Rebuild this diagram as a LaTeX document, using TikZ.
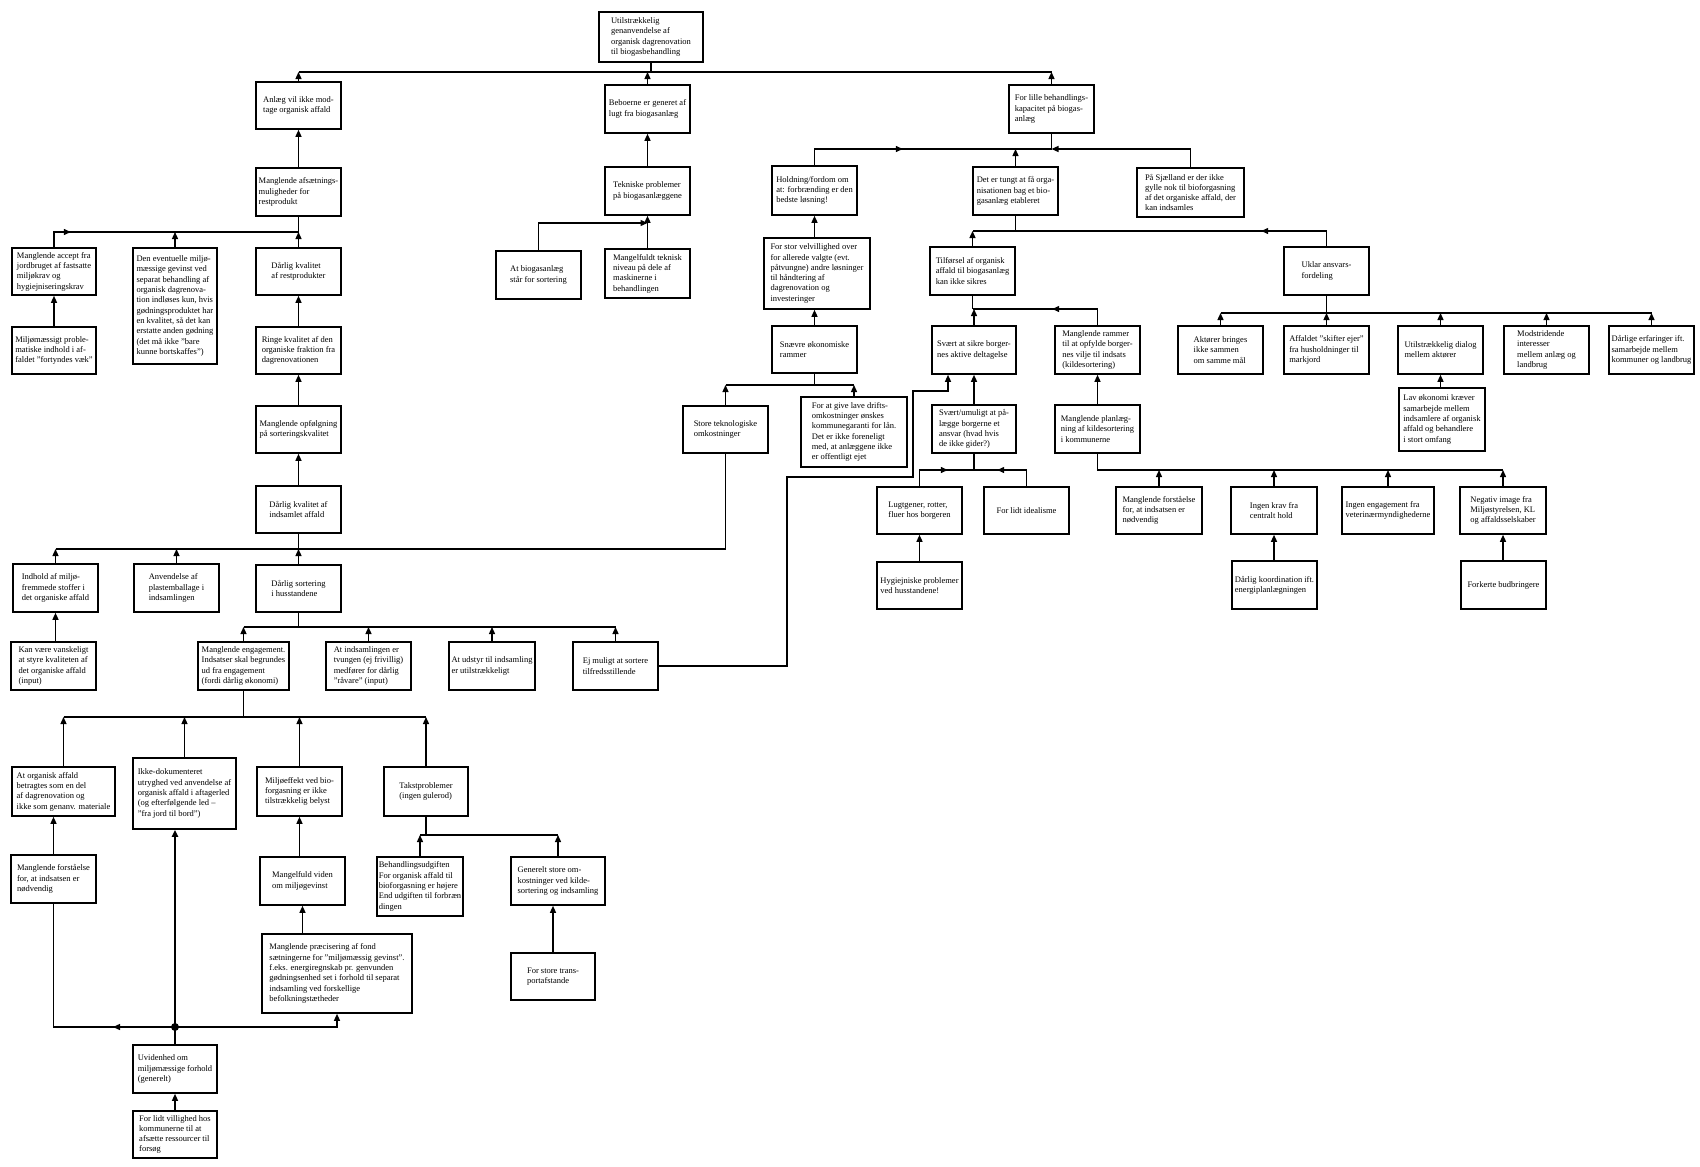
\documentclass[tikz,border=0pt]{standalone}
\usepackage{fontspec}
\setmainfont{Liberation Serif}
\usetikzlibrary{arrows.meta,decorations.markings}
\tikzset{
 pbox/.style={draw, line width=1.6pt, inner xsep=2pt, inner ysep=1pt, align=left, font=\fontsize{8.5}{10.3}\selectfont},
 conn/.style={line width=1.3pt},
 upar/.style={-{Triangle[length=7pt,width=6pt]}},
 marrow/.style={postaction={decorate}, decoration={markings, mark=at position #1 with {\arrow{Triangle[length=7pt,width=6pt]}}}},
}
\newcommand\BX[6]{%
 \pgfmathsetmacro\bxw{#4-#2}\pgfmathsetmacro\bxh{#5-#3}%
 \pgfmathsetmacro\bxx{(#2+#4)/2}\pgfmathsetmacro\bxy{(#3+#5)/2}%
 \node[pbox, minimum width=\bxw pt, minimum height=\bxh pt] (#1) at (\bxx,\bxy) {#6};}
\begin{document}
\begin{tikzpicture}[x=1pt,y=-1pt]
\fill[white] (0,0) rectangle (1700,1167);
\useasboundingbox (0,0) rectangle (1700,1167);
% ---------- nodes
\BX{T0}{599}{12}{703}{62}{Utilstrækkelig\\genanvendelse af\\organisk dagrenovation\\til biogasbehandling}
\BX{A1}{256}{82}{341}{129}{Anlæg vil ikke mod-\\tage organisk affald}
\BX{A2}{256}{168}{341}{216}{Manglende afsætnings-\\muligheder for\\restprodukt}
\BX{A3}{12}{248}{96}{295}{Manglende accept fra\\jordbruget af fastsatte\\miljøkrav og\\hygiejniseringskrav}
\BX{A4}{133}{248}{217}{364}{Den eventuelle miljø-\\mæssige gevinst ved\\separat behandling af\\organisk dagrenova-\\tion indløses kun, hvis\\gødningsproduktet har\\en kvalitet, så det kan\\erstatte anden gødning\\(det må ikke "bare\\kunne bortskaffes")}
\BX{A5}{256}{248}{341}{295}{Dårlig kvalitet\\af restprodukter}
\BX{A6}{12}{327}{96}{374}{Miljømæssigt proble-\\matiske indhold i af-\\faldet "fortyndes væk"}
\BX{A7}{256}{327}{341}{374}{Ringe kvalitet af den\\organiske fraktion fra\\dagrenovationen}
\BX{A8}{256}{406}{341}{453}{Manglende opfølgning\\på sorteringskvalitet}
\BX{A9}{256}{486}{341}{533}{Dårlig kvalitet af\\indsamlet affald}
\BX{A10}{13}{564}{98}{612}{Indhold af miljø-\\fremmede stoffer i\\det organiske affald}
\BX{A11}{134}{564}{219}{612}{Anvendelse af\\plastemballage i\\indsamlingen}
\BX{A12}{256}{565}{341}{612}{Dårlig sortering\\i husstandene}
\BX{A13}{11}{642}{96}{690}{Kan være vanskeligt\\at styre kvaliteten af\\det organiske affald\\(input)}
\BX{B1}{198}{642}{289}{690}{Manglende engagement.\\Indsatser skal begrundes\\ud fra engagement\\(fordi dårlig økonomi)}
\BX{B2}{326}{642}{411}{690}{At indsamlingen er\\tvungen (ej frivillig)\\medfører for dårlig\\"råvare" (input)}
\BX{B3}{449}{642}{535}{690}{At udstyr til indsamling\\er utilstrækkeligt}
\BX{B4}{573}{642}{658}{690}{Ej muligt at sortere\\tilfredsstillende}
\BX{C1}{12}{767}{115}{816}{At organisk affald\\betragtes som en del\\af dagrenovation og\\ikke som genanv. materiale}
\BX{C2}{133}{758}{236}{829}{Ikke-dokumenteret\\utryghed ved anvendelse af\\organisk affald i aftagerled\\(og efterfølgende led –\\"fra jord til bord")}
\BX{C3}{257}{767}{342}{816}{Miljøeffekt ved bio-\\forgasning er ikke\\tilstrækkelig belyst}
\BX{C4}{384}{767}{468}{816}{Takstproblemer\\(ingen gulerod)}
\BX{C5}{11}{855}{96}{903}{Manglende forståelse\\for, at indsatsen er\\nødvendig}
\BX{C6}{260}{857}{345}{905}{Mangelfuld viden\\om miljøgevinst}
\BX{C7}{262}{934}{412}{1013}{Manglende præcisering af fond\\sætningerne for "miljømæssig gevinst".\\f.eks. energiregnskab pr. genvunden\\gødningsenhed set i forhold til separat\\indsamling ved forskellige\\befolkningstætheder}
\BX{C8}{377}{857}{463}{916}{Behandlingsudgiften\\For organisk affald til\\bioforgasning er højere\\End udgiften til forbræn\\dingen}
\BX{C9}{511}{857}{605}{905}{Generelt store om-\\kostninger ved kilde-\\sortering og indsamling}
\BX{C10}{511}{953}{595}{1000}{For store trans-\\portafstande}
\BX{U1}{133}{1045}{217}{1093}{Uvidenhed om\\miljømæssige forhold\\(generelt)}
\BX{U2}{133}{1111}{217}{1158}{For lidt villighed hos\\kommunerne til at\\afsætte ressourcer til\\forsøg}
\BX{M1}{605}{85}{690}{133}{Beboerne er generet af\\lugt fra biogasanlæg}
\BX{M2}{605}{167}{690}{215}{Tekniske problemer\\på biogasanlæggene}
\BX{M3}{496}{251}{581}{299}{At biogasanlæg\\står for sortering}
\BX{M4}{605}{249}{690}{298}{Mangelfuldt teknisk\\niveau på dele af\\maskinerne i\\behandlingen}
\BX{H1}{772}{166}{857}{215}{Holdning/fordom om\\at: forbrænding er den\\bedste løsning!}
\BX{H2}{764}{238}{870}{309}{For stor velvillighed over\\for allerede valgte (evt.\\påtvungne) andre løsninger\\til håndtering af\\dagrenovation og\\investeringer}
\BX{H3}{772}{326}{857}{373}{Snævre økonomiske\\rammer}
\BX{S2}{683}{406}{768}{453}{Store teknologiske\\omkostninger}
\BX{F2}{801}{397}{907}{467}{For at give lave drifts-\\omkostninger ønskes\\kommunegaranti for lån.\\Det er ikke foreneligt\\med, at anlæggene ikke\\er offentligt ejet}
\BX{R1}{1009}{85}{1094}{133}{For lille behandlings-\\kapacitet på biogas-\\anlæg}
\BX{R2}{973}{167}{1058}{215}{Det er tungt at få orga-\\nisationen bag et bio-\\gasanlæg etableret}
\BX{R3}{1137}{168}{1244}{217}{På Sjælland er der ikke\\gylle nok til bioforgasning\\af det organiske affald, der\\kan indsamles}
\BX{R4}{930}{247}{1015}{295}{Tilførsel af organisk\\affald til biogasanlæg\\kan ikke sikres}
\BX{R5}{1284}{247}{1369}{295}{Uklar ansvars-\\fordeling}
\BX{R6}{932}{326}{1016}{374}{Svært at sikre borger-\\nes aktive deltagelse}
\BX{R7}{1055}{326}{1140}{374}{Manglende rammer\\til at opfylde borger-\\nes vilje til indsats\\(kildesortering)}
\BX{R8}{932}{405}{1016}{453}{Svært/umuligt at på-\\lægge borgerne et\\ansvar (hvad hvis\\de ikke gider?)}
\BX{R9}{877}{487}{962}{534}{Lugtgener, rotter,\\fluer hos borgeren}
\BX{R10}{984}{487}{1069}{534}{For lidt idealisme}
\BX{R11}{877}{562}{962}{609}{Hygiejniske problemer\\ved husstandene!}
\BX{R12}{1055}{405}{1140}{453}{Manglende planlæg-\\ning af kildesortering\\i kommunerne}
\BX{R13}{1116}{487}{1202}{534}{Manglende forståelse\\for, at indsatsen er\\nødvendig}
\BX{R14}{1231}{487}{1317}{534}{Ingen krav fra\\centralt hold}
\BX{R15}{1342}{487}{1434}{534}{Ingen engagement fra\\veterinærmyndighederne}
\BX{R16}{1460}{487}{1546}{534}{Negativ image fra\\Miljøstyrelsen, KL\\og affaldsselskaber}
\BX{R17}{1232}{561}{1317}{609}{Dårlig koordination ift.\\energiplanlægningen}
\BX{R18}{1461}{561}{1546}{609}{Forkerte budbringere}
\BX{R19}{1178}{326}{1263}{374}{Aktører bringes\\ikke sammen\\om samme mål}
\BX{R20}{1284}{326}{1369}{374}{Affaldet "skifter ejer"\\fra husholdninger til\\markjord}
\BX{R21}{1398}{326}{1483}{374}{Utilstrækkelig dialog\\mellem aktører}
\BX{R22}{1504}{326}{1589}{374}{Modstridende\\interesser\\mellem anlæg og\\landbrug}
\BX{R23}{1609}{326}{1694}{374}{Dårlige erfaringer ift.\\samarbejde mellem\\kommuner og landbrug}
\BX{R24}{1399}{388}{1485}{451}{Lav økonomi kræver\\samarbejde mellem\\indsamlere af organisk\\affald og behandlere\\i stort omfang}
% ---------- connectors: top bus
\draw[conn] (T0.south) -- (T0.south |- 0,72);
\draw[conn] (A1.north |- 0,72) -- (R1.north |- 0,72);
\draw[conn,upar] (A1.north) -- (A1.north |- 0,72);
\draw[conn,upar] (M1.north) -- (M1.north |- 0,72);
\draw[conn,upar] (R1.north) -- (R1.north |- 0,72);
% left column
\draw[conn,upar] (A2.north) -- (A1.south);
\draw[conn] (A2.south) -- (A2.south |- 0,232);
\draw[conn,marrow=32pt] (A3.north) |- (A2.south |- 0,232);
\draw[conn,upar] (A4.north) -- (A4.north |- 0,232);
\draw[conn,upar] (A5.north) -- (A5.north |- 0,232);
\draw[conn,upar] (A6.north) -- (A3.south);
\draw[conn,upar] (A7.north) -- (A5.south);
\draw[conn,upar] (A8.north) -- (A7.south);
\draw[conn,upar] (A9.north) -- (A8.south);
\draw[conn] (A9.south) -- (A9.south |- 0,549);
\draw[conn] (A10.north |- 0,549) -- (S2.south |- 0,549) -- (S2.south);
\draw[conn,upar] (A10.north) -- (A10.north |- 0,549);
\draw[conn,upar] (A11.north) -- (A11.north |- 0,549);
\draw[conn,upar] (A12.north) -- (A12.north |- 0,549);
\draw[conn,upar] (A13.north -| A10.south) -- (A10.south);
\draw[conn] (A12.south) -- (A12.south |- 0,627);
\draw[conn] (B1.north |- 0,627) -- (B4.north |- 0,627);
\draw[conn,upar] (B1.north) -- (B1.north |- 0,627);
\draw[conn,upar] (B2.north) -- (B2.north |- 0,627);
\draw[conn,upar] (B3.north) -- (B3.north |- 0,627);
\draw[conn,upar] (B4.north) -- (B4.north |- 0,627);
\draw[conn] (B1.south) -- (B1.south |- 0,717);
\draw[conn] (C1.north |- 0,717) -- (C4.north |- 0,717);
\draw[conn,upar] (C1.north) -- (C1.north |- 0,717);
\draw[conn,upar] (C2.north) -- (C2.north |- 0,717);
\draw[conn,upar] (C3.north) -- (C3.north |- 0,717);
\draw[conn,upar] (C4.north) -- (C4.north |- 0,717);
\draw[conn] (C4.south) -- (C4.south |- 0,835);
\draw[conn] (C8.north |- 0,835) -- (C9.north |- 0,835);
\draw[conn,upar] (C8.north) -- (C8.north |- 0,835);
\draw[conn,upar] (C9.north) -- (C9.north |- 0,835);
\draw[conn,upar] (C10.north) -- (C10.north |- C9.south);
\draw[conn,upar] (C5.north) -- (C5.north |- C1.south);
\draw[conn,upar] (C6.north -| C3.south) -- (C3.south);
\draw[conn,upar] (C7.north -| C6.south) -- (C6.south);
\coordinate (dot) at (U1.north |- 0,1027);
\draw[line width=2pt,upar] (dot) -- (dot |- C2.south);
\draw[conn] (U1.north) -- (dot);
\draw[conn,upar] (dot) -| (C7.south);
\draw[conn,marrow=62pt] (dot) -| (C5.south);
\fill (dot) circle (4pt);
\draw[conn,upar] (U2.north) -- (U1.south);
% middle
\draw[conn,upar] (M2.north) -- (M1.south);
\draw[conn,upar] (M4.north) -- (M2.south);
\draw[conn,upar] (M3.north) |- (M2.south |- 0,223);
\draw[conn,upar] (H2.north -| H1.south) -- (H1.south);
\draw[conn,upar] (H3.north) -- (H3.north |- H2.south);
\draw[conn] (H3.south) -- (H3.south |- 0,385);
\draw[conn] (S2.north |- 0,385) -- (F2.north |- 0,385);
\draw[conn,upar] (S2.north) -- (S2.north |- 0,385);
\draw[conn,upar] (F2.north) -- (F2.north |- 0,385);
\draw[conn,upar] (B4.east) -| (787,477) -| (913,391) -| (R6.south -| 948,0);
% right
\draw[conn] (R1.south) -- (R1.south |- 0,149);
\draw[conn,marrow=104.5pt] (H1.north) |- (R1.south |- 0,149);
\draw[conn,upar] (R3.north) |- (R1.south |- 0,149);
\draw[conn,upar] (R2.north) -- (R2.north |- 0,149);
\draw[conn] (R2.south) -- (R2.south |- 0,231);
\draw[conn,marrow=80.5pt] (R5.north) |- (R4.north |- 0,231);
\draw[conn,upar] (R4.north) -- (R4.north |- 0,231);
\draw[conn] (R4.south) -- (R4.south |- 0,309);
\draw[conn,marrow=61.5pt] (R7.north) |- (R4.south |- 0,309);
\draw[conn,upar] (R6.north) -- (R6.north |- 0,309);
\draw[conn,upar] (R8.north -| R6.south) -- (R6.south);
\draw[conn] (R8.south) -- (R8.south |- 0,470);
\draw[conn,marrow=44.5pt] (R9.north) |- (R8.south |- 0,470);
\draw[conn,marrow=45.5pt] (R10.north) |- (R8.south |- 0,470);
\draw[conn,upar] (R11.north) -- (R9.south);
\draw[conn,upar] (R12.north) -- (R7.south);
\draw[conn] (R12.south) -- (R12.south |- 0,470) -- (R16.north |- 0,470);
\draw[conn,upar] (R13.north) -- (R13.north |- 0,470);
\draw[conn,upar] (R14.north) -- (R14.north |- 0,470);
\draw[conn,upar] (R15.north) -- (R15.north |- 0,470);
\draw[conn,upar] (R16.north) -- (R16.north |- 0,470);
\draw[conn,upar] (R17.north -| R14.south) -- (R14.south);
\draw[conn,upar] (R18.north -| R16.south) -- (R16.south);
\draw[conn] (R5.south) -- (R5.south |- 0,313);
\draw[conn] (R19.north |- 0,313) -- (R23.north |- 0,313);
\draw[conn,upar] (R19.north) -- (R19.north |- 0,313);
\draw[conn,upar] (R20.north) -- (R20.north |- 0,313);
\draw[conn,upar] (R21.north) -- (R21.north |- 0,313);
\draw[conn,upar] (R22.north) -- (R22.north |- 0,313);
\draw[conn,upar] (R23.north) -- (R23.north |- 0,313);
\draw[conn,upar] (R24.north -| R21.south) -- (R21.south);
\end{tikzpicture}
\end{document}
